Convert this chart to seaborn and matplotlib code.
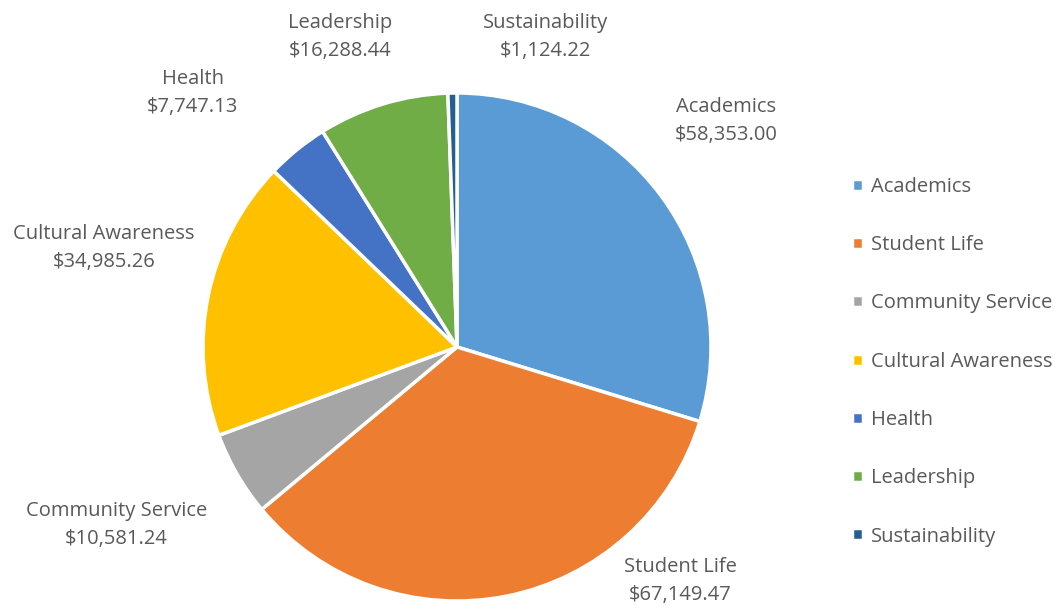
import matplotlib.pyplot as plt
import seaborn as sns

# data
categories = ["Academics", "Student Life", "Community Service", "Cultural Awareness",
              "Health", "Leadership", "Sustainability"]
amounts = [58353.00, 67149.47, 10581.24, 34985.26, 7747.13, 16288.44, 1124.22]
colors = ["#5B9BD5", "#ED7D31", "#A5A5A5", "#FFC000", "#4472C4", "#70AD47", "#255E91"]

# label placement (radius units, relative to pie centre) - Excel "best fit" look
label_pos = [(1.06, 0.89), (0.88, -0.92), (-1.34, -0.70), (-1.39, 0.39),
             (-1.04, 1.00), (-0.46, 1.22), (0.35, 1.22)]

sns.set_theme(style="white")
plt.rcParams['font.family'] = ['Open Sans', 'DejaVu Sans']
txt_col = "#595959"

fig = plt.figure(figsize=(10.62, 6.10), dpi=100)
k = 1.02
w = 2 * 254 * k
ax = fig.add_axes([(457 - w / 2) / 1062, (263 - w / 2) / 610, w / 1062, w / 610])

wedges, _ = ax.pie(amounts, colors=colors, startangle=90, counterclock=False,
                   radius=1, wedgeprops=dict(edgecolor="white", linewidth=2.5))
ax.set_xlim(-k, k)
ax.set_ylim(-k, k)
ax.set_aspect("equal")
ax.axis("off")

for cat, val, (x, y) in zip(categories, amounts, label_pos):
    ax.text(x, y, f"{cat}\n${val:,.2f}", ha="center", va="center",
            fontsize=14.5, color=txt_col, linespacing=1.55, clip_on=False)

leg = fig.legend(wedges, categories, loc="center left", bbox_to_anchor=(0.785, 0.407),
                 frameon=False, fontsize=14.5, handlelength=0.55, handleheight=0.55,
                 handletextpad=0.4, labelspacing=1.9, labelcolor=txt_col)

fig.savefig("out.png", dpi=100)
